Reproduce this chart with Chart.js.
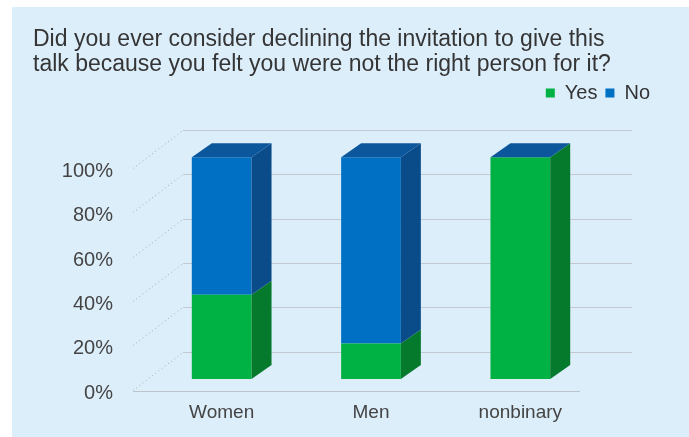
<!DOCTYPE html>
<html><head><meta charset="utf-8">
<script src="https://cdn.jsdelivr.net/npm/chart.js@4/dist/chart.umd.min.js"></script>
<style>html,body{margin:0;padding:0;background:#ddeefb;overflow:hidden;} canvas{display:block;}</style>
</head><body>
<canvas id="c" width="689" height="437"></canvas>
<script>
// ---- data ----
const categories = ['Women', 'Men', 'nonbinary'];
const seriesNames = ['Yes', 'No'];
const yesValues = [38, 16, 100];
const noValues = [62, 84, 0];
const yTickLabels = ['0%', '20%', '40%', '60%', '80%', '100%', ''];
const titleLines = [
  'Did you ever consider declining the invitation to give this',
  'talk because you felt you were not the right person for it?'
];

// ---- styles ----
const FONT = "'Liberation Sans', Arial, Helvetica, sans-serif";
const frontColors = ['#00b244', '#0070c5'];
const sideColors = ['#067a2c', '#0a4c8a'];
const topColor = '#0c579c';
const DX = 20, DY = 14;

const background = {
  id: 'background',
  beforeDraw(chart) {
    const ctx = chart.ctx;
    ctx.save();
    ctx.fillStyle = '#ffffff';
    ctx.fillRect(0, 0, chart.width, chart.height);
    ctx.fillStyle = '#ddeefb';
    ctx.fillRect(12, 7, chart.width - 12, chart.height - 7);
    ctx.restore();
  }
};

const wall = {
  id: 'wall',
  beforeDatasetsDraw(chart) {
    const {ctx, chartArea: a} = chart;
    const ys = chart.scales.y;
    ctx.save();
    ys.ticks.forEach(t => {
      const p = ys.getPixelForValue(t.value);
      if (t.value === 0) {
        const y = Math.round(p + 12) + 0.5;
        ctx.strokeStyle = '#bcc4cc';
        ctx.lineWidth = 1.2;
        ctx.setLineDash([]);
        ctx.beginPath(); ctx.moveTo(a.left - 14, y); ctx.lineTo(a.right - 15, y); ctx.stroke();
      } else {
        const y = Math.round(p + 17) + 0.5;
        ctx.strokeStyle = '#c2c9d0';
        ctx.lineWidth = 1.2;
        ctx.setLineDash([]);
        ctx.beginPath(); ctx.moveTo(a.left + 36, y); ctx.lineTo(a.right + 37, y); ctx.stroke();
        ctx.strokeStyle = '#a3acb5';
        ctx.lineWidth = 1;
        ctx.setLineDash([1, 3]);
        ctx.beginPath(); ctx.moveTo(a.left - 14, y + 38); ctx.lineTo(a.left + 36, y); ctx.stroke();
      }
    });
    ctx.restore();
  }
};

const bars3d = {
  id: 'bars3d',
  afterDatasetsDraw(chart) {
    const ctx = chart.ctx;
    const n = chart.data.datasets.length;
    ctx.save();
    for (let d = 0; d < n; d++) {
      chart.getDatasetMeta(d).data.forEach(bar => {
        const {x, y, base, width} = bar.getProps(['x', 'y', 'base', 'width'], true);
        const r = x + width / 2;
        const top = Math.min(y, base), bot = Math.max(y, base);
        if (bot - top < 0.5) return;
        ctx.fillStyle = sideColors[d];
        ctx.beginPath();
        ctx.moveTo(r, top); ctx.lineTo(r + DX, top - DY);
        ctx.lineTo(r + DX, bot - DY); ctx.lineTo(r, bot);
        ctx.closePath(); ctx.fill();
      });
    }
    chart.getDatasetMeta(n - 1).data.forEach(bar => {
      const {x, y, width} = bar.getProps(['x', 'y', 'width'], true);
      const l = x - width / 2, r = x + width / 2;
      ctx.fillStyle = topColor;
      ctx.beginPath();
      ctx.moveTo(l, y); ctx.lineTo(l + DX, y - DY);
      ctx.lineTo(r + DX, y - DY); ctx.lineTo(r, y);
      ctx.closePath(); ctx.fill();
    });
    ctx.restore();
  }
};

new Chart(document.getElementById('c'), {
  type: 'bar',
  data: {
    labels: categories,
    datasets: [
      {label: seriesNames[0], data: yesValues, backgroundColor: frontColors[0], borderWidth: 0, barPercentage: 0.4, categoryPercentage: 1.0},
      {label: seriesNames[1], data: noValues, backgroundColor: frontColors[1], borderWidth: 0, barPercentage: 0.4, categoryPercentage: 1.0}
    ]
  },
  options: {
    responsive: false,
    animation: false,
    devicePixelRatio: 1,
    layout: {padding: {left: 33, right: 31, top: 0, bottom: 12.7}},
    plugins: {
      title: {
        display: true, text: titleLines, align: 'start', color: '#353535',
        font: {family: FONT, size: 23, weight: 'normal', lineHeight: '25px'},
        padding: {top: 27.5, bottom: -2.5}
      },
      legend: {
        display: true, position: 'top', align: 'end',
        labels: {
          color: '#333', boxWidth: 9, boxHeight: 9, padding: 8,
          font: {family: FONT, size: 20}
        }
      },
      tooltip: {enabled: false}
    },
    scales: {
      x: {
        stacked: true,
        grid: {display: false, drawTicks: false},
        border: {display: false},
        ticks: {color: '#444', padding: 22.5, font: {family: FONT, size: 19}, maxRotation: 0, autoSkip: false},
        afterFit: s => { s.height = 45.3; }
      },
      y: {
        stacked: true, min: 0, max: 120,
        grid: {display: false, drawTicks: false},
        border: {display: false},
        ticks: {
          stepSize: 20, color: '#444', padding: 34, labelOffset: 14,
          font: {family: FONT, size: 20},
          callback: (v, i) => yTickLabels[i]
        },
        afterFit: s => { s.width = 114; s.paddingTop = 0; s.paddingBottom = 0; }
      },
      yRight: {
        type: 'linear', position: 'right', display: true,
        grid: {display: false, drawTicks: false},
        border: {display: false},
        ticks: {display: false},
        afterFit: s => { s.width = 63; s.paddingTop = 0; s.paddingBottom = 0; }
      }
    }
  },
  plugins: [background, wall, bars3d]
});
</script>
</body></html>
